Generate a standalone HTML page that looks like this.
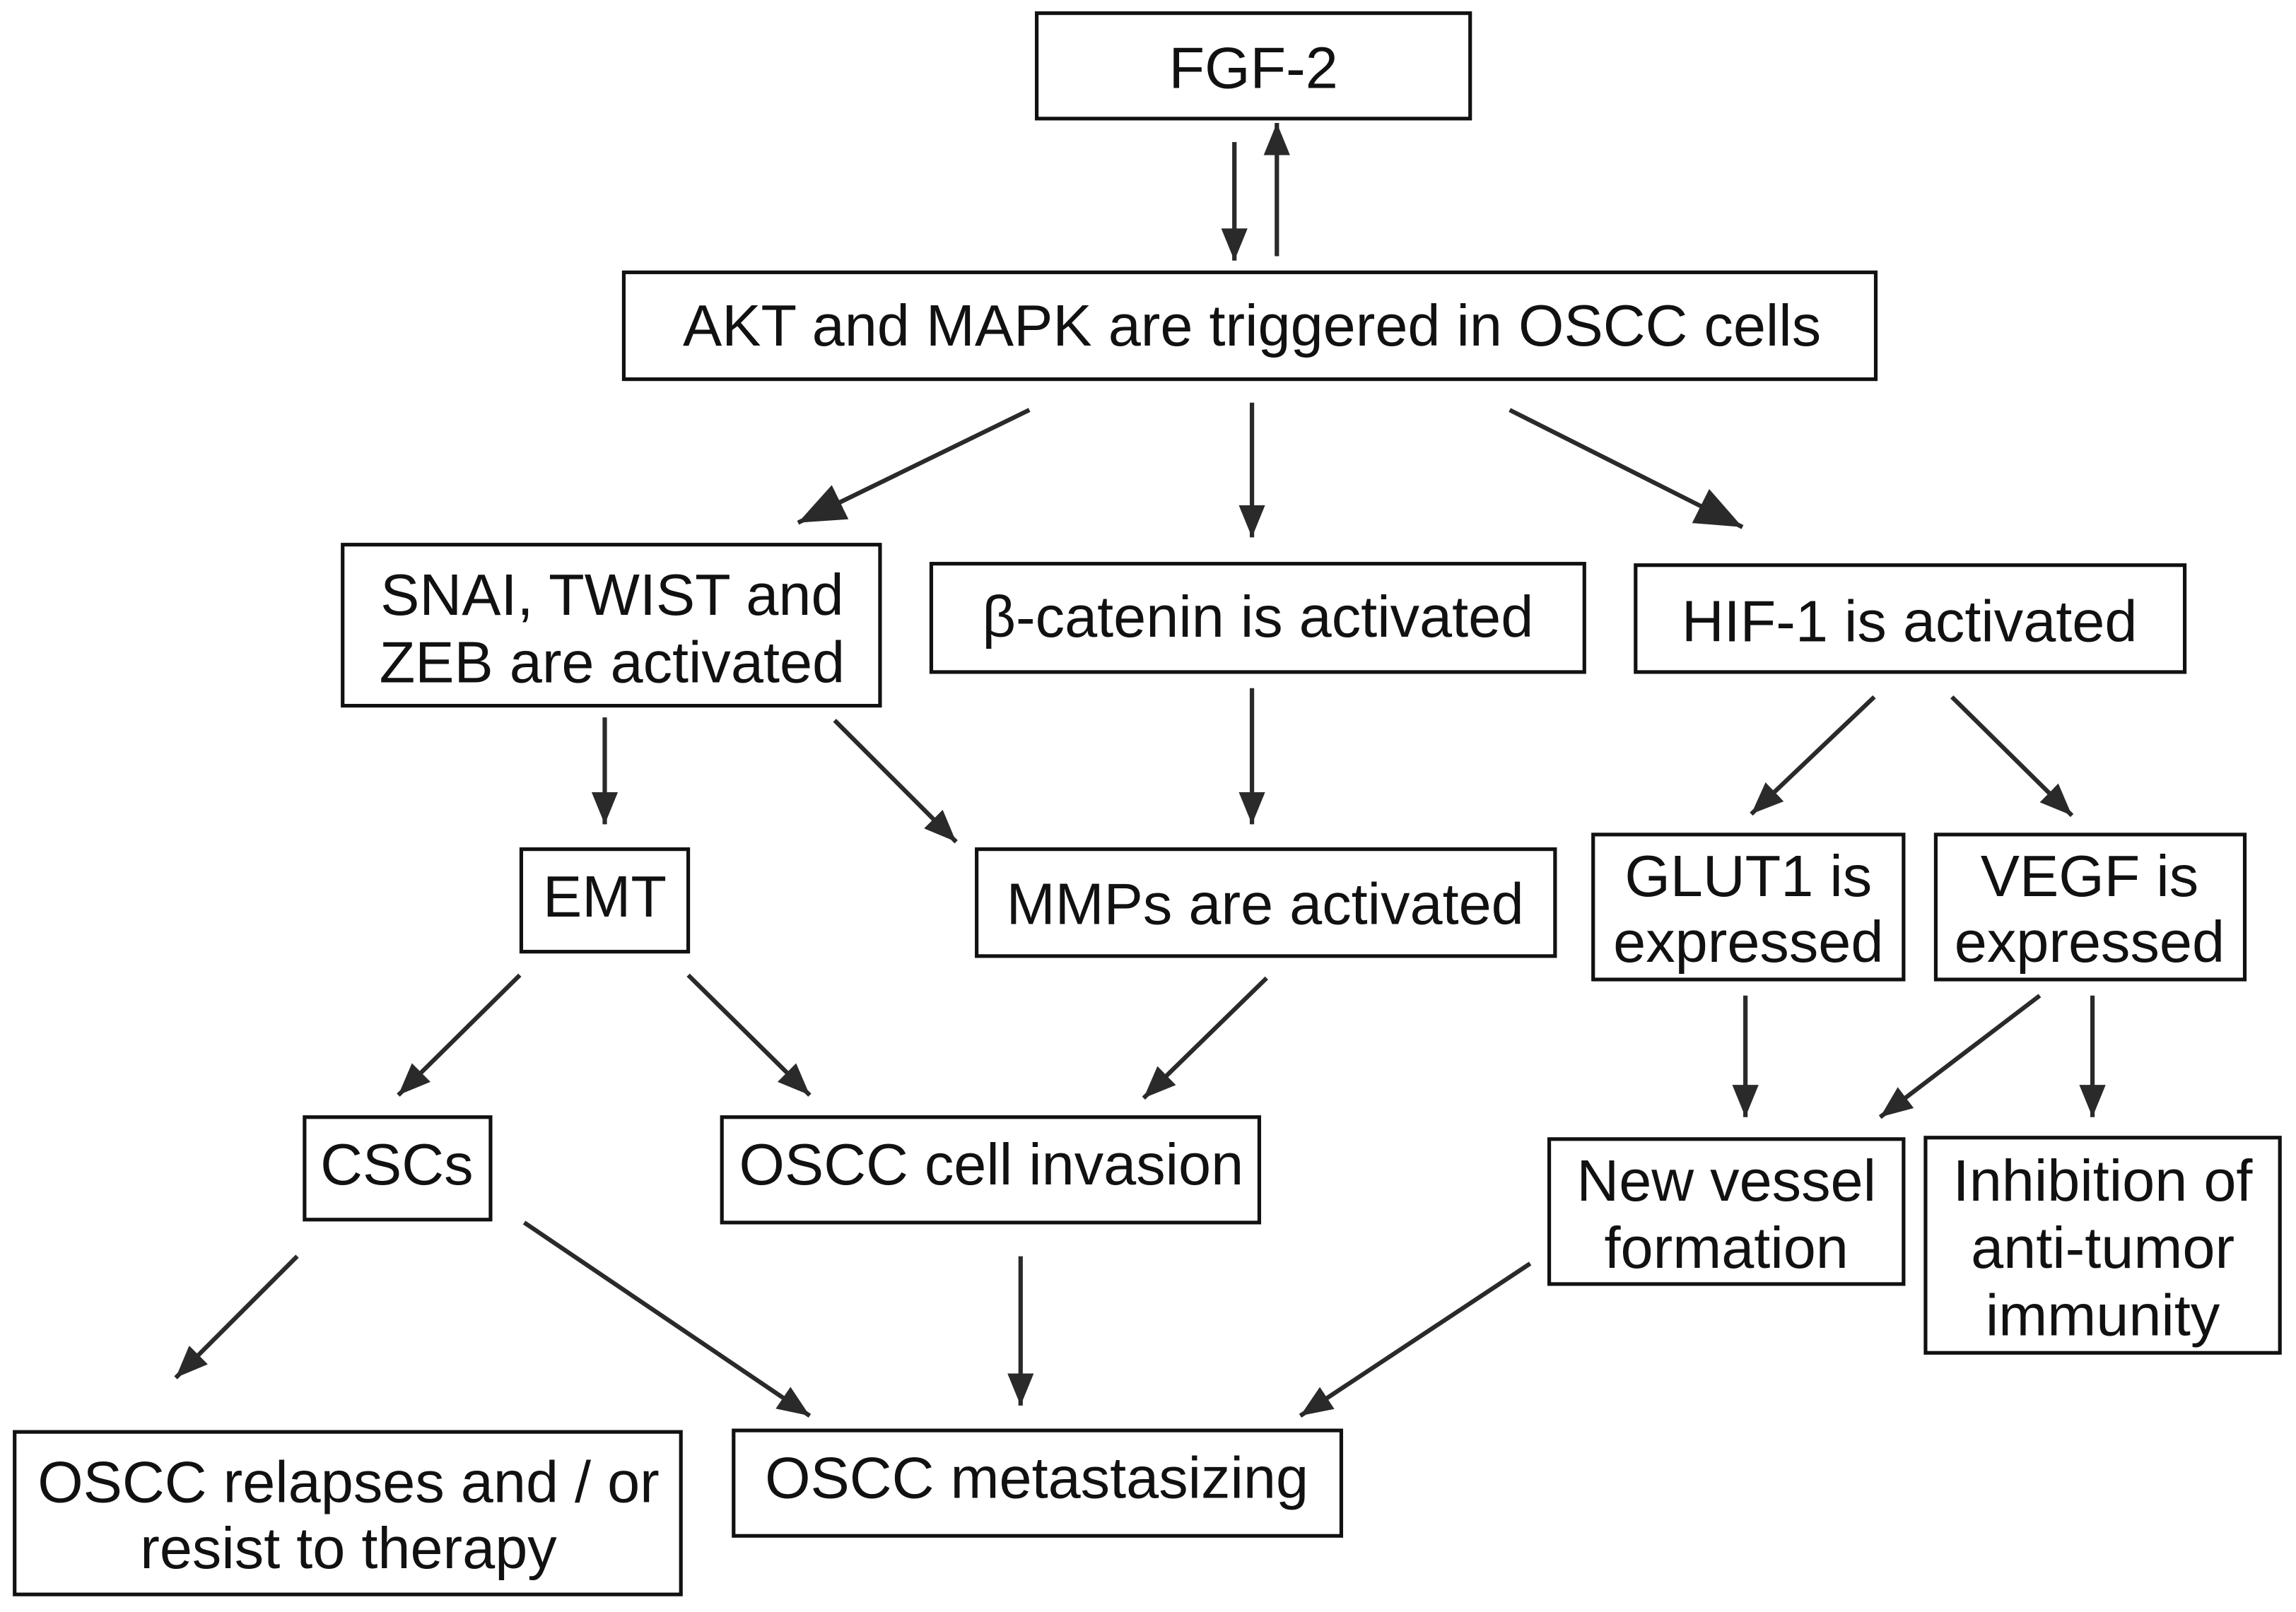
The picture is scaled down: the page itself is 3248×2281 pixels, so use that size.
<!DOCTYPE html>
<html><head><meta charset="utf-8"><style>
html,body{margin:0;padding:0;background:#fff;}
svg{display:block;}
text{font-family:"Liberation Sans",Arial,sans-serif;font-size:40px;fill:#111;text-anchor:middle;}
rect{fill:#fff;stroke:#111;stroke-width:2.5;}
line{stroke:#2a2a2a;stroke-width:3;}
</style></head><body>
<svg width="3248" height="2281" viewBox="0 0 1568 1101" preserveAspectRatio="none" xmlns="http://www.w3.org/2000/svg">
<defs>
<marker id="a" markerUnits="userSpaceOnUse" markerWidth="24" markerHeight="20" refX="22" refY="9" orient="auto"><path d="M0,0 L22,9 L0,18 z" fill="#2a2a2a"/></marker>
<marker id="b" markerUnits="userSpaceOnUse" markerWidth="34" markerHeight="28" refX="32" refY="13" orient="auto"><path d="M0,0 L32,13 L0,26 z" fill="#2a2a2a"/></marker>
</defs>
<rect x="708" y="9" width="296" height="72"/><text x="856" y="60">FGF-2</text>
<rect x="426" y="186" width="855" height="73"/><text x="855" y="236">AKT and MAPK are triggered in OSCC cells</text>
<rect x="234" y="372" width="367" height="110"/><text x="418" y="420">SNAI, TWIST and</text><text x="418" y="466">ZEB are activated</text>
<rect x="636" y="385" width="446" height="74"/><text x="859" y="435">β-catenin is activated</text>
<rect x="1117" y="386" width="375" height="73"/><text x="1304" y="438">HIF-1 is activated</text>
<rect x="356" y="580" width="114" height="70"/><text x="413" y="626">EMT</text>
<rect x="667" y="580" width="395" height="73"/><text x="864" y="631">MMPs are activated</text>
<rect x="1088" y="570" width="212" height="99"/><text x="1194" y="612">GLUT1 is</text><text x="1194" y="657">expressed</text>
<rect x="1322" y="570" width="211" height="99"/><text x="1427" y="612">VEGF is</text><text x="1427" y="657">expressed</text>
<rect x="208" y="763" width="127" height="70"/><text x="271" y="809">CSCs</text>
<rect x="493" y="763" width="367" height="72"/><text x="677" y="809">OSCC cell invasion</text>
<rect x="1058" y="778" width="242" height="99"/><text x="1179" y="820">New vessel</text><text x="1179" y="866">formation</text>
<rect x="1315" y="777" width="242" height="147"/><text x="1436" y="820">Inhibition of</text><text x="1436" y="866">anti-tumor</text><text x="1436" y="912">immunity</text>
<rect x="10" y="978" width="455" height="111"/><text x="238" y="1026">OSCC relapses and / or</text><text x="238" y="1071">resist to therapy</text>
<rect x="501" y="977" width="415" height="72"/><text x="708" y="1023">OSCC metastasizing</text>
<line x1="843" y1="97" x2="843" y2="178" marker-end="url(#a)"/>
<line x1="872" y1="175" x2="872" y2="84" marker-end="url(#a)"/>
<line x1="703" y1="280" x2="545" y2="357" marker-end="url(#b)"/>
<line x1="855" y1="275" x2="855" y2="367" marker-end="url(#a)"/>
<line x1="1031" y1="280" x2="1190" y2="360" marker-end="url(#b)"/>
<line x1="413" y1="490" x2="413" y2="563" marker-end="url(#a)"/>
<line x1="570" y1="492" x2="653" y2="575" marker-end="url(#a)"/>
<line x1="855" y1="470" x2="855" y2="563" marker-end="url(#a)"/>
<line x1="1280" y1="476" x2="1196" y2="556" marker-end="url(#a)"/>
<line x1="1333" y1="476" x2="1415" y2="557" marker-end="url(#a)"/>
<line x1="355" y1="666" x2="272" y2="748" marker-end="url(#a)"/>
<line x1="470" y1="666" x2="553" y2="748" marker-end="url(#a)"/>
<line x1="865" y1="668" x2="781" y2="750" marker-end="url(#a)"/>
<line x1="1192" y1="680" x2="1192" y2="763" marker-end="url(#a)"/>
<line x1="1393" y1="680" x2="1284" y2="763" marker-end="url(#a)"/>
<line x1="1429" y1="680" x2="1429" y2="763" marker-end="url(#a)"/>
<line x1="203" y1="858" x2="120" y2="941" marker-end="url(#a)"/>
<line x1="358" y1="835" x2="553" y2="967" marker-end="url(#a)"/>
<line x1="697" y1="858" x2="697" y2="960" marker-end="url(#a)"/>
<line x1="1045" y1="863" x2="888" y2="967" marker-end="url(#a)"/>
</svg>
</body></html>
